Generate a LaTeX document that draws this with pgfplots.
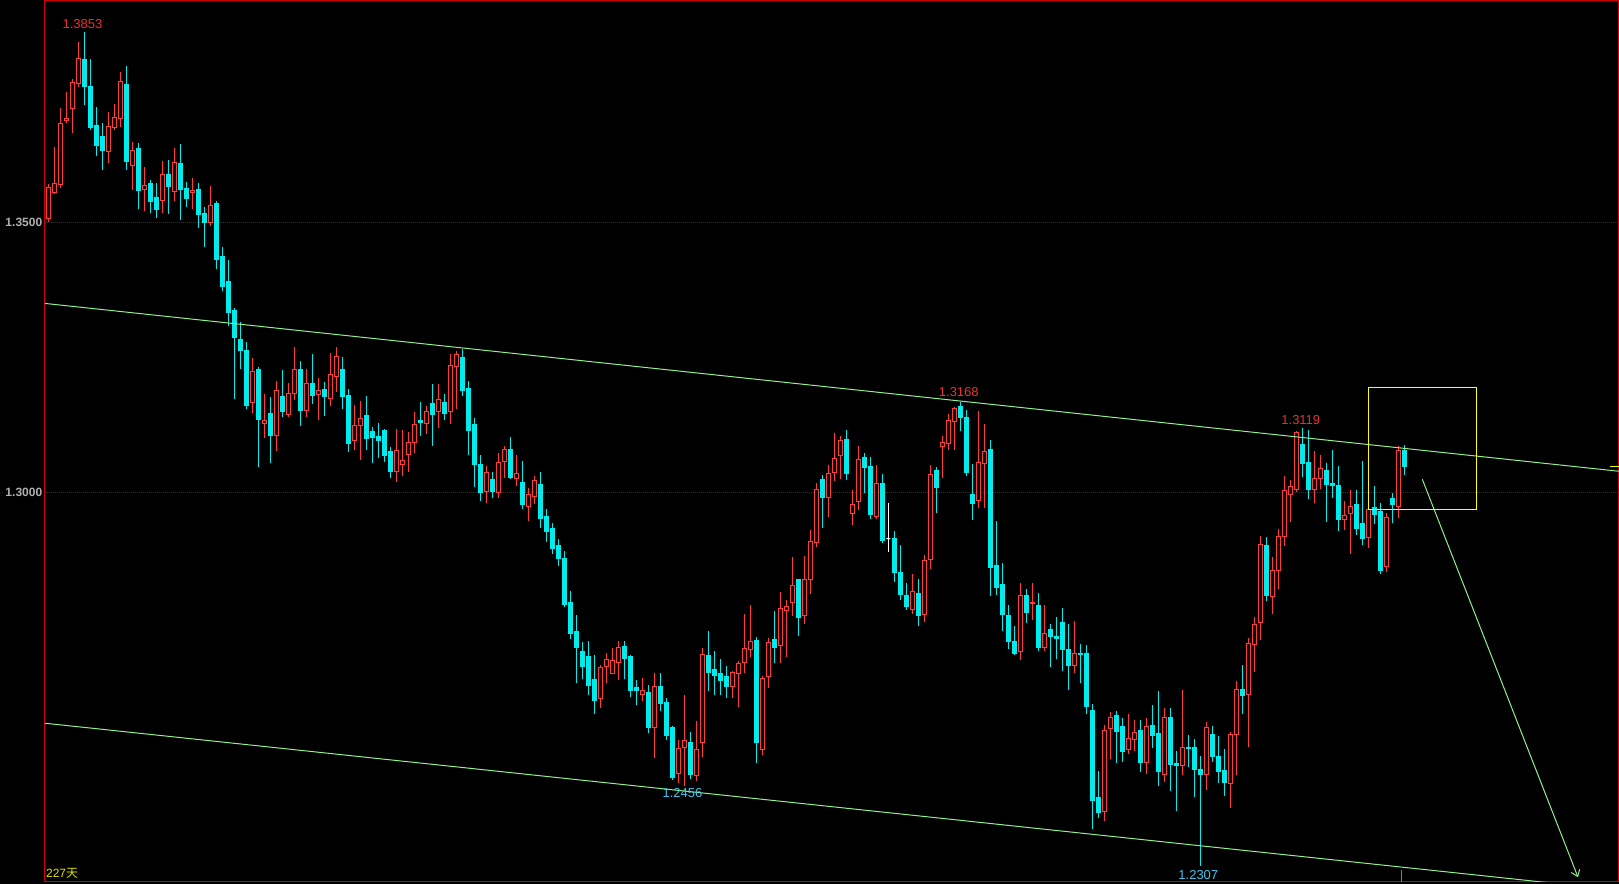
\documentclass[border=0pt]{standalone}
\usepackage{fontspec}
\setmainfont{Liberation Sans}
\newfontfamily\cjk{Noto Sans CJK SC}
\usepackage{pgfplots}
\pgfplotsset{compat=1.18}
\usepackage{pgfplotstable}
\usetikzlibrary{arrows.meta}

\definecolor{upred}{HTML}{FF3C3C}
\definecolor{dncyan}{HTML}{00EBEB}
\definecolor{framered}{HTML}{D00000}
\definecolor{gridred}{HTML}{A00000}
\definecolor{trendgreen}{HTML}{90F090}
\definecolor{boxyellow}{HTML}{FFFF00}
\definecolor{tickgrey}{HTML}{B0B0B0}
\definecolor{lblred}{HTML}{E83232}
\definecolor{lblcyan}{HTML}{3CC8F0}
\definecolor{daysyellow}{HTML}{E0E000}

% daily candles: index, open, high, low, close
\pgfplotstableread{
i o h l c
0 1.3507 1.3570 1.3501 1.3565
1 1.3555 1.3639 1.3553 1.3572
2 1.3570 1.3711 1.3564 1.3683
3 1.3688 1.3741 1.3683 1.3693
4 1.3710 1.3765 1.3666 1.3759
5 1.3757 1.3834 1.3751 1.3804
6 1.3801 1.3853 1.3717 1.3751
7 1.3751 1.3802 1.3670 1.3675
8 1.3680 1.3714 1.3622 1.3642
9 1.3658 1.3684 1.3596 1.3633
10 1.3631 1.3704 1.3609 1.3678
11 1.3675 1.3719 1.3670 1.3694
12 1.3693 1.3778 1.3677 1.3761
13 1.3756 1.3789 1.3597 1.3612
14 1.3605 1.3649 1.3560 1.3632
15 1.3637 1.3647 1.3525 1.3559
16 1.3560 1.3602 1.3521 1.3569
17 1.3571 1.3578 1.3517 1.3538
18 1.3545 1.3573 1.3508 1.3523
19 1.3540 1.3614 1.3517 1.3589
20 1.3588 1.3615 1.3516 1.3566
21 1.3557 1.3637 1.3539 1.3611
22 1.3608 1.3645 1.3505 1.3560
23 1.3562 1.3575 1.3528 1.3544
24 1.3556 1.3582 1.3525 1.3558
25 1.3560 1.3573 1.3490 1.3515
26 1.3517 1.3528 1.3455 1.3499
27 1.3499 1.3567 1.3494 1.3531
28 1.3534 1.3539 1.3414 1.3431
29 1.3436 1.3454 1.3372 1.3381
30 1.3391 1.3430 1.3307 1.3333
31 1.3336 1.3341 1.3173 1.3286
32 1.3282 1.3315 1.3229 1.3262
33 1.3262 1.3278 1.3155 1.3160
34 1.3166 1.3249 1.3147 1.3223
35 1.3227 1.3232 1.3047 1.3134
36 1.3127 1.3182 1.3100 1.3132
37 1.3145 1.3177 1.3055 1.3105
38 1.3105 1.3206 1.3077 1.3188
39 1.3177 1.3227 1.3140 1.3149
40 1.3144 1.3202 1.3140 1.3182
41 1.3183 1.3269 1.3170 1.3227
42 1.3228 1.3243 1.3122 1.3152
43 1.3151 1.3228 1.3139 1.3202
44 1.3202 1.3256 1.3164 1.3179
45 1.3181 1.3212 1.3134 1.3189
46 1.3191 1.3204 1.3141 1.3177
47 1.3173 1.3258 1.3160 1.3219
48 1.3214 1.3269 1.3186 1.3252
49 1.3227 1.3251 1.3154 1.3177
50 1.3180 1.3191 1.3075 1.3090
51 1.3096 1.3162 1.3078 1.3123
52 1.3123 1.3169 1.3060 1.3136
53 1.3143 1.3178 1.3078 1.3099
54 1.3112 1.3121 1.3055 1.3101
55 1.3104 1.3128 1.3064 1.3095
56 1.3114 1.3117 1.3056 1.3069
57 1.3075 1.3084 1.3027 1.3039
58 1.3038 1.3117 1.3019 1.3078
59 1.3051 1.3115 1.3030 1.3058
60 1.3070 1.3112 1.3038 1.3093
61 1.3092 1.3149 1.3073 1.3125
62 1.3132 1.3167 1.3104 1.3129
63 1.3127 1.3160 1.3108 1.3149
64 1.3165 1.3201 1.3086 1.3144
65 1.3149 1.3201 1.3119 1.3171
66 1.3167 1.3182 1.3134 1.3146
67 1.3149 1.3256 1.3127 1.3234
68 1.3233 1.3262 1.3154 1.3256
69 1.3249 1.3265 1.3178 1.3188
70 1.3193 1.3206 1.3069 1.3114
71 1.3125 1.3138 1.3010 1.3052
72 1.3052 1.3069 1.2984 1.2999
73 1.3001 1.3049 1.2981 1.3036
74 1.3023 1.3037 1.2989 1.3001
75 1.2999 1.3073 1.2989 1.3056
76 1.3057 1.3086 1.3027 1.3080
77 1.3080 1.3102 1.3025 1.3028
78 1.3025 1.3069 1.3012 1.3034
79 1.3019 1.3058 1.2969 1.2977
80 1.2973 1.3008 1.2946 1.2995
81 1.2992 1.3030 1.2979 1.3021
82 1.3015 1.3038 1.2934 1.2952
83 1.2956 1.2969 1.2908 1.2928
84 1.2932 1.2943 1.2886 1.2895
85 1.2902 1.2914 1.2864 1.2878
86 1.2878 1.2891 1.2788 1.2793
87 1.2795 1.2817 1.2728 1.2738
88 1.2743 1.2773 1.2647 1.2712
89 1.2706 1.2723 1.2654 1.2677
90 1.2695 1.2725 1.2625 1.2643
91 1.2654 1.2699 1.2589 1.2615
92 1.2618 1.2680 1.2601 1.2675
93 1.2677 1.2702 1.2647 1.2691
94 1.2665 1.2712 1.2664 1.2688
95 1.2684 1.2725 1.2652 1.2712
96 1.2715 1.2725 1.2654 1.2693
97 1.2695 1.2699 1.2621 1.2632
98 1.2639 1.2652 1.2606 1.2632
99 1.2625 1.2656 1.2614 1.2632
100 1.2630 1.2643 1.2554 1.2564
101 1.2565 1.2665 1.2508 1.2641
102 1.2641 1.2665 1.2595 1.2608
103 1.2610 1.2619 1.2541 1.2549
104 1.2565 1.2567 1.2467 1.2471
105 1.2480 1.2541 1.2462 1.2525
106 1.2528 1.2625 1.2456 1.2541
107 1.2536 1.2556 1.2469 1.2478
108 1.2475 1.2577 1.2465 1.2523
109 1.2536 1.2712 1.2510 1.2699
110 1.2697 1.2743 1.2632 1.2667
111 1.2671 1.2706 1.2625 1.2660
112 1.2664 1.2691 1.2625 1.2651
113 1.2658 1.2678 1.2619 1.2641
114 1.2640 1.2669 1.2619 1.2667
115 1.2664 1.2688 1.2602 1.2682
116 1.2684 1.2775 1.2665 1.2710
117 1.2709 1.2791 1.2695 1.2723
118 1.2725 1.2732 1.2499 1.2536
119 1.2523 1.2660 1.2514 1.2656
120 1.2659 1.2730 1.2638 1.2721
121 1.2727 1.2780 1.2684 1.2712
122 1.2716 1.2815 1.2684 1.2784
123 1.2781 1.2801 1.2695 1.2789
124 1.2796 1.2880 1.2771 1.2827
125 1.2838 1.2840 1.2734 1.2769
126 1.2772 1.2882 1.2756 1.2839
127 1.2838 1.2930 1.2812 1.2908
128 1.2907 1.3017 1.2899 1.3006
129 1.3023 1.3032 1.2934 1.2991
130 1.2990 1.3051 1.2954 1.3034
131 1.3036 1.3110 1.3021 1.3062
132 1.3068 1.3104 1.3025 1.3095
133 1.3097 1.3115 1.3023 1.3034
134 1.2960 1.3004 1.2939 1.2978
135 1.2983 1.3086 1.2967 1.3060
136 1.3064 1.3073 1.2999 1.3045
137 1.3047 1.3065 1.2951 1.2958
138 1.2956 1.3051 1.2951 1.3017
139 1.3017 1.3034 1.2906 1.2910
140 1.2914 1.2980 1.2890 1.2914
141 1.2915 1.2928 1.2834 1.2852
142 1.2852 1.2902 1.2801 1.2810
143 1.2808 1.2832 1.2782 1.2789
144 1.2783 1.2849 1.2775 1.2817
145 1.2812 1.2840 1.2752 1.2771
146 1.2773 1.2884 1.2760 1.2873
147 1.2875 1.3051 1.2858 1.3032
148 1.3041 1.3047 1.2962 1.3008
149 1.3084 1.3104 1.3027 1.3093
150 1.3090 1.3145 1.3078 1.3133
151 1.3131 1.3158 1.3078 1.3156
152 1.3158 1.3168 1.3114 1.3138
153 1.3139 1.3152 1.3030 1.3036
154 1.2995 1.3052 1.2949 1.2980
155 1.2984 1.3151 1.2970 1.3056
156 1.3053 1.3127 1.2971 1.3075
157 1.3080 1.3097 1.2808 1.2860
158 1.2865 1.2947 1.2810 1.2823
159 1.2830 1.2869 1.2743 1.2773
160 1.2771 1.2791 1.2710 1.2723
161 1.2723 1.2752 1.2699 1.2702
162 1.2705 1.2832 1.2689 1.2808
163 1.2808 1.2821 1.2758 1.2778
164 1.2794 1.2832 1.2764 1.2795
165 1.2791 1.2814 1.2706 1.2712
166 1.2712 1.2791 1.2706 1.2739
167 1.2745 1.2756 1.2677 1.2732
168 1.2732 1.2769 1.2691 1.2729
169 1.2758 1.2786 1.2669 1.2708
170 1.2708 1.2756 1.2634 1.2680
171 1.2680 1.2762 1.2665 1.2702
172 1.2702 1.2719 1.2647 1.2699
173 1.2701 1.2717 1.2589 1.2604
174 1.2595 1.2608 1.2377 1.2429
175 1.2434 1.2484 1.2397 1.2407
176 1.2409 1.2569 1.2392 1.2559
177 1.2562 1.2593 1.2506 1.2583
178 1.2586 1.2595 1.2499 1.2557
179 1.2567 1.2582 1.2501 1.2520
180 1.2524 1.2589 1.2515 1.2544
181 1.2542 1.2578 1.2520 1.2556
182 1.2558 1.2578 1.2482 1.2499
183 1.2500 1.2582 1.2479 1.2567
184 1.2569 1.2606 1.2527 1.2549
185 1.2554 1.2632 1.2456 1.2482
186 1.2478 1.2601 1.2464 1.2583
187 1.2582 1.2601 1.2447 1.2496
188 1.2497 1.2521 1.2410 1.2494
189 1.2494 1.2634 1.2477 1.2528
190 1.2528 1.2551 1.2491 1.2525
191 1.2527 1.2543 1.2436 1.2486
192 1.2486 1.2512 1.2307 1.2477
193 1.2478 1.2575 1.2449 1.2565
194 1.2552 1.2567 1.2501 1.2510
195 1.2510 1.2549 1.2462 1.2482
196 1.2484 1.2525 1.2438 1.2462
197 1.2461 1.2556 1.2416 1.2552
198 1.2551 1.2651 1.2477 1.2635
199 1.2634 1.2680 1.2590 1.2623
200 1.2626 1.2730 1.2529 1.2720
201 1.2718 1.2769 1.2668 1.2756
202 1.2759 1.2919 1.2727 1.2904
203 1.2902 1.2917 1.2799 1.2808
204 1.2807 1.2880 1.2775 1.2856
205 1.2855 1.2932 1.2821 1.2919
206 1.2918 1.3030 1.2901 1.3004
207 1.2996 1.3023 1.2945 1.3011
208 1.3005 1.3114 1.3001 1.3111
209 1.3088 1.3119 1.3028 1.3054
210 1.3056 1.3115 1.2988 1.3006
211 1.3005 1.3077 1.2980 1.3026
212 1.3025 1.3069 1.3006 1.3044
213 1.3041 1.3054 1.2945 1.3015
214 1.3017 1.3078 1.2989 1.3012
215 1.3012 1.3049 1.2928 1.2949
216 1.2949 1.2984 1.2930 1.2957
217 1.2960 1.3004 1.2886 1.2974
218 1.2978 1.3004 1.2921 1.2932
219 1.2943 1.3058 1.2902 1.2915
220 1.2916 1.2977 1.2897 1.2969
221 1.2971 1.3012 1.2941 1.2959
222 1.2964 1.2980 1.2849 1.2856
223 1.2862 1.2961 1.2852 1.2954
224 1.2988 1.2999 1.2943 1.2978
225 1.2973 1.3086 1.2953 1.3078
226 1.3078 1.3088 1.3032 1.3047
}\candles

\pgfplotsset{
  wick/.style={draw=none, mark=none, forget plot,
    error bars/y dir=plus, error bars/y explicit,
    error bars/draw error bar/.code 2 args={\draw[#1, line width=0.5pt] ##1 -- ##2;}},
  body/.style 2 args={draw=none, mark=none, forget plot,
    error bars/y dir=plus, error bars/y explicit,
    error bars/draw error bar/.code 2 args={%
      \path ##1 coordinate (cb) ##2 coordinate (ct);
      \filldraw[fill=#1, draw=#2, line width=0.5pt]
        ([xshift=-1pt]cb) rectangle ([xshift=1pt]ct);}},
  up/.style={restrict expr to domain={\thisrow{c}-\thisrow{o}}{0.00001:1}},
  down/.style={restrict expr to domain={\thisrow{c}-\thisrow{o}}{-1:-0.00001}},
  flat/.style={restrict expr to domain={\thisrow{c}-\thisrow{o}}{-0.000001:0.000001}},
}

\begin{document}
\begin{tikzpicture}
\path[use as bounding box] (0,0) rectangle (809.5pt,442pt);
\fill[black] (0,0) rectangle (809.5pt,442pt);
\begin{axis}[
    at={(22.5pt,1pt)}, anchor=south west,
    x=3pt, y=2700pt,
    xmin=-0.55, xmax=261.78,
    ymin=1.22783, ymax=1.39098,
    axis line style={draw=framered, line width=0.5pt},
    xtick=\empty,
    ytick={1.30,1.35},
    major tick length=0pt,
    scaled y ticks=false,
    /pgf/number format/assume math mode=true,
    yticklabel style={font=\fontsize{6}{7}\selectfont\bfseries, text=tickgrey,
        inner sep=1.2pt,
        /pgf/number format/fixed, /pgf/number format/fixed zerofill,
        /pgf/number format/precision=4},
    ymajorgrids,
    grid style={draw=gridred, line width=0.5pt, dash pattern=on 0.5pt off 0.5pt},
]
% wicks
\addplot[wick=upred, up] table[x=i, y=l, y error plus expr=\thisrow{h}-\thisrow{l}] {\candles};
\addplot[wick=dncyan, down] table[x=i, y=l, y error plus expr=\thisrow{h}-\thisrow{l}] {\candles};
\addplot[wick=white, flat] table[x=i, y=l, y error plus expr=\thisrow{h}-\thisrow{l}] {\candles};
% bodies
\addplot[body={black}{upred}, up] table[x=i, y=o, y error plus expr=\thisrow{c}-\thisrow{o}] {\candles};
\addplot[body={dncyan}{dncyan}, down] table[x=i, y=c, y error plus expr=\thisrow{o}-\thisrow{c}] {\candles};
\addplot[body={white}{white}, flat] table[x=i, y=c, y error plus expr=0] {\candles};

% channel lines
\addplot[trendgreen, line width=0.5pt] coordinates {(-0.55,1.33497) (261.78,1.30389)};
\addplot[trendgreen, line width=0.5pt] coordinates {(-0.55,1.25723) (261.78,1.22632)};
\addplot[trendgreen, line width=0.5pt, -{Straight Barb[length=3pt,width=4.5pt]}]
    coordinates {(229.0,1.30241) (254.95,1.22871)};
% box round the last candles
\addplot[boxyellow, line width=0.5pt] coordinates
    {(220,1.31945) (238,1.31945) (238,1.29673) (220,1.29673) (220,1.31945)};
% last price mark and bar marker
\addplot[boxyellow, line width=0.5pt] coordinates {(260.3,1.3048) (261.78,1.3048)};
\addplot[gray, line width=0.5pt] coordinates {(225.5,1.22783) (225.5,1.2300)};

\node[font=\fontsize{6.5}{7}\selectfont, text=lblred] at (axis cs:5.70,1.38663) {1.3853};
\node[font=\fontsize{6.5}{7}\selectfont, text=lblred] at (axis cs:151.75,1.31849) {1.3168};
\node[font=\fontsize{6.5}{7}\selectfont, text=lblred] at (axis cs:208.75,1.31345) {1.3119};
\node[font=\fontsize{6.5}{7}\selectfont, text=lblcyan] at (axis cs:105.70,1.24426) {1.2456};
\node[font=\fontsize{6.5}{7}\selectfont, text=lblcyan] at (axis cs:191.67,1.22919) {1.2307};
\node[anchor=west, inner sep=0pt, font=\fontsize{6}{7}\selectfont, text=daysyellow]
    at (axis cs:-0.43,1.22945) {227{\cjk 天}};
\end{axis}
\end{tikzpicture}
\end{document}
